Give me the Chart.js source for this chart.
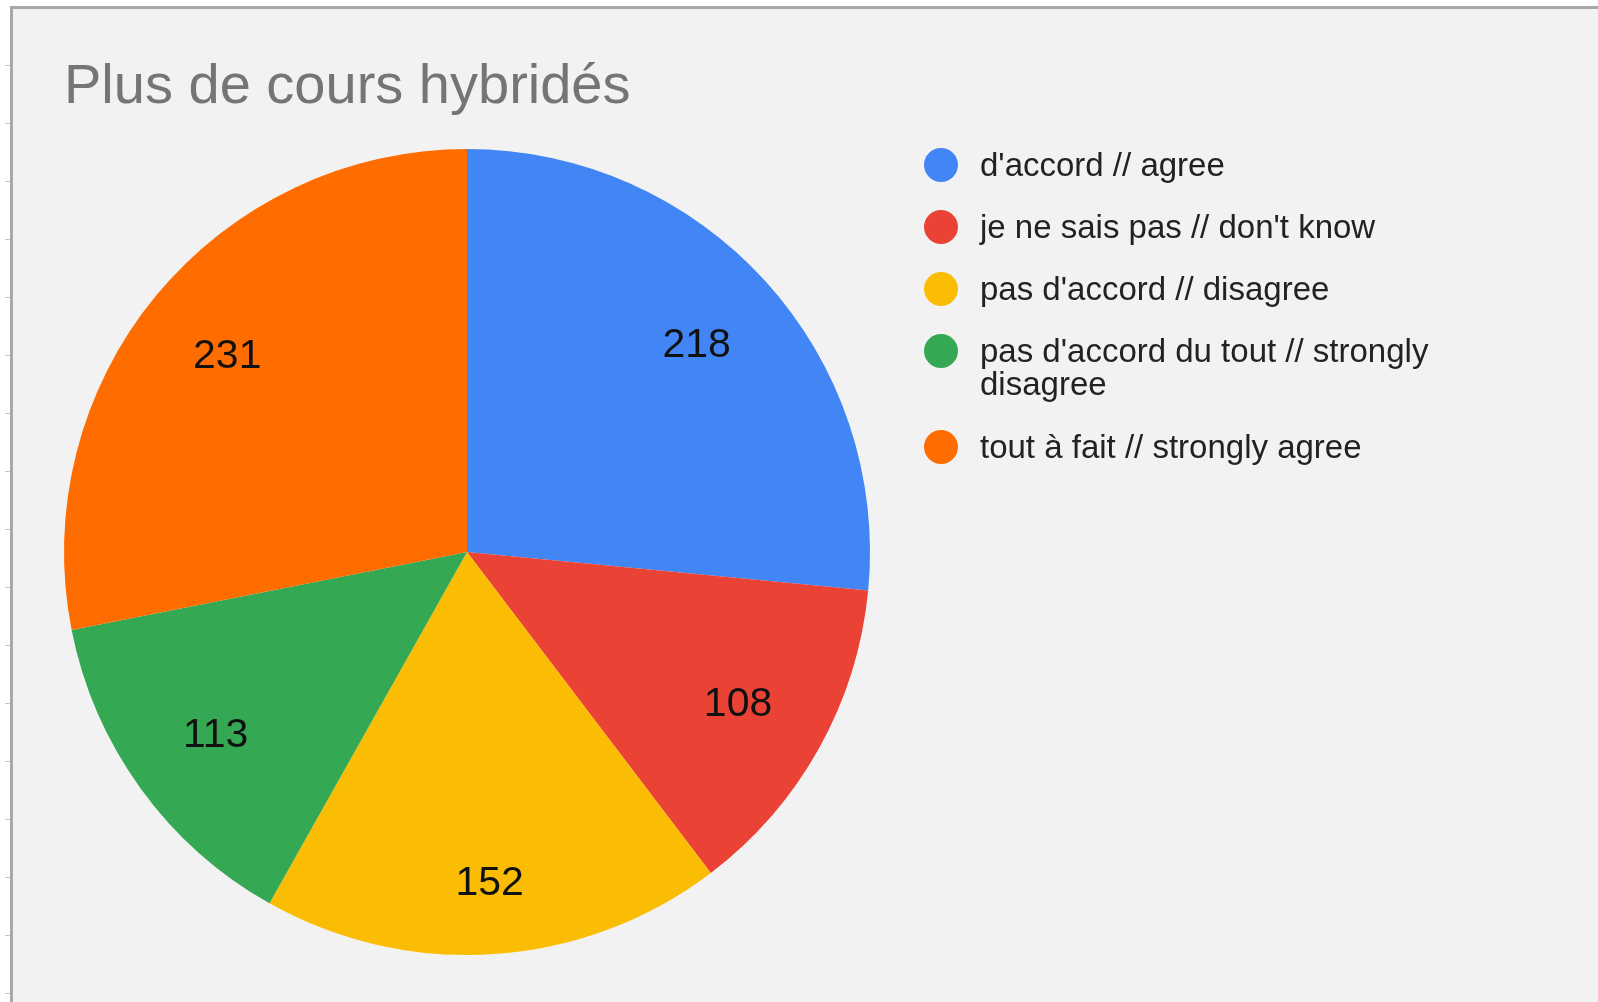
<!DOCTYPE html>
<html>
<head>
<meta charset="utf-8">
<script src="https://cdn.jsdelivr.net/npm/chart.js@4.4.1/dist/chart.umd.min.js"></script>
<style>
  html, body { margin: 0; padding: 0; background: #ffffff; overflow: hidden; }
  #frame {
    position: absolute; left: 10px; top: 6px; width: 1600px; height: 1010px;
    background: #f2f2f2; border-left: 3px solid #a8a8a8; border-top: 3px solid #a8a8a8;
  }
  #ticks {
    position: absolute; left: 5px; top: 8px; width: 5px; height: 1000px;
    background: repeating-linear-gradient(to bottom, transparent 0, transparent 57px, #c4c4c4 57px, #c4c4c4 58px);
  }
  #wrap { position: absolute; left: 0; top: 0; width: 1598px; height: 1002px; }
</style>
</head>
<body>
<div id="frame"></div>
<div id="ticks"></div>
<div id="wrap"><canvas id="pie"></canvas></div>
<script>
  const chartTitle = "Plus de cours hybridés";
  const categories = [
    "d'accord // agree",
    "je ne sais pas // don't know",
    "pas d'accord // disagree",
    "pas d'accord du tout // strongly disagree",
    "tout à fait // strongly agree"
  ];
  const counts = [218, 108, 152, 113, 231];
  const colors = ["#4285f4", "#ea4335", "#fbbc04", "#34a853", "#ff6d01"];

  const FONT = "Arial, 'Liberation Sans', sans-serif";

  function wrapText(ctx, text, maxWidth) {
    const words = text.split(" ");
    const lines = [];
    let line = "";
    words.forEach((w) => {
      const test = line ? line + " " + w : w;
      if (line && ctx.measureText(test).width > maxWidth) {
        lines.push(line);
        line = w;
      } else {
        line = test;
      }
    });
    if (line) lines.push(line);
    return lines;
  }

  // title, slice values and the right-hand legend
  const decorations = {
    id: "decorations",
    afterDraw(chart) {
      const ctx = chart.ctx;
      ctx.save();

      ctx.fillStyle = "#757575";
      ctx.font = "56px " + FONT;
      ctx.textAlign = "left";
      ctx.textBaseline = "alphabetic";
      ctx.fillText(chartTitle, 64, 103);

      const meta = chart.getDatasetMeta(0);
      ctx.fillStyle = "#111111";
      ctx.font = "41px " + FONT;
      ctx.textAlign = "center";
      ctx.textBaseline = "middle";
      meta.data.forEach((arc, i) => {
        const p = arc.getProps(["x", "y", "startAngle", "endAngle", "outerRadius"], true);
        const mid = (p.startAngle + p.endAngle) / 2;
        // labels near the bottom sit a little further out, as in the source
        const r = p.outerRadius * (Math.sin(mid) > 0.95 ? 0.82 : 0.77);
        ctx.fillText(String(counts[i]), p.x + Math.cos(mid) * r, p.y + Math.sin(mid) * r + 2);
      });

      ctx.font = "33px " + FONT;
      ctx.textAlign = "left";
      ctx.textBaseline = "alphabetic";
      let y = 165;
      categories.forEach((label, i) => {
        ctx.fillStyle = colors[i];
        ctx.beginPath();
        ctx.arc(941, y, 17, 0, Math.PI * 2);
        ctx.fill();
        ctx.fillStyle = "#222222";
        const lines = wrapText(ctx, label, 490);
        lines.forEach((ln, k) => ctx.fillText(ln, 980, y + 11 + k * 33));
        y += 62 + (lines.length - 1) * 34;
      });

      ctx.restore();
    }
  };

  new Chart(document.getElementById("pie"), {
    type: "pie",
    data: {
      labels: categories,
      datasets: [{
        data: counts,
        backgroundColor: colors,
        borderWidth: 0
      }]
    },
    options: {
      responsive: true,
      maintainAspectRatio: false,
      animation: false,
      layout: { padding: { left: 64, top: 149, right: 728, bottom: 47 } },
      plugins: {
        legend: { display: false },
        tooltip: { enabled: false },
        title: { display: false }
      }
    },
    plugins: [decorations]
  });
</script>
</body>
</html>
